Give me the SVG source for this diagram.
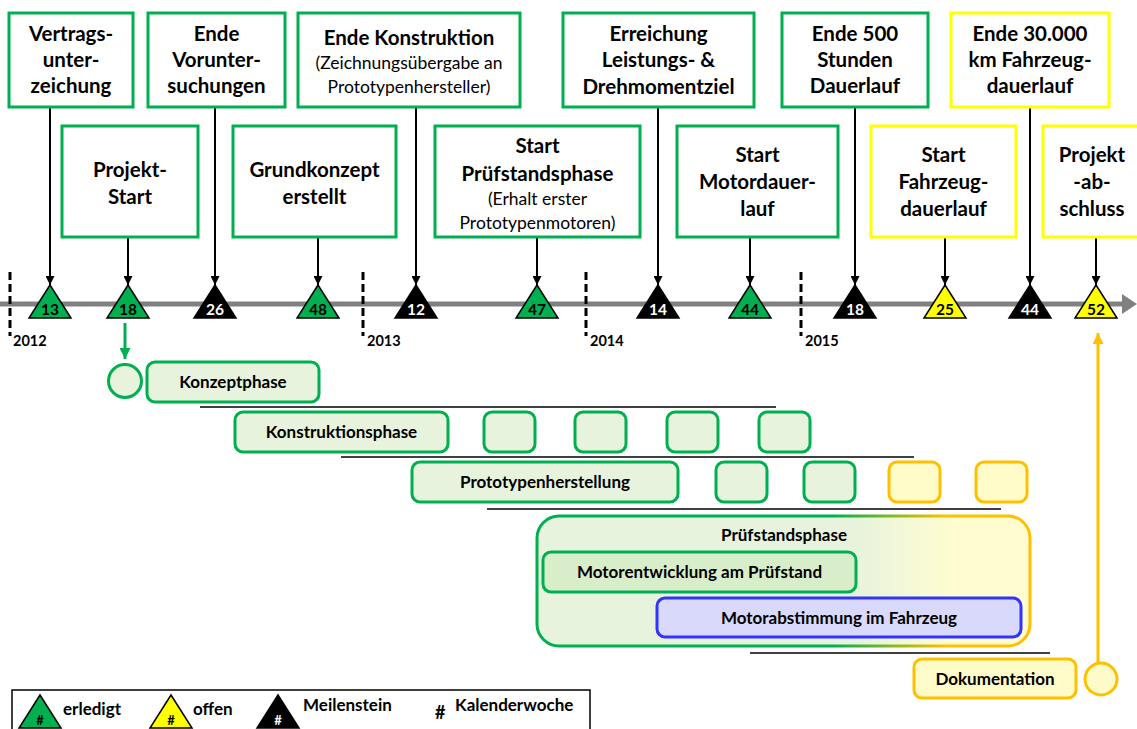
<svg xmlns="http://www.w3.org/2000/svg" width="1137" height="729" viewBox="0 0 1137 729">
<style>
text{font-family:Lato,"Open Sans","Liberation Sans",sans-serif;fill:#000}
.b{font-weight:bold;font-size:20.5px;text-anchor:middle}
.n{font-weight:normal;font-size:17.5px;text-anchor:middle}
.bar{font-weight:bold;font-size:17px;text-anchor:middle}
.yr{font-weight:bold;font-size:14.5px}
.num{font-weight:bold;font-size:15.5px;text-anchor:middle}
.gbox{fill:#fff;stroke:#00b050;stroke-width:3}
.ybox{fill:#fff;stroke:#ffff00;stroke-width:3}
.gbar{fill:#e7f3dc;stroke:#00b050;stroke-width:3}
.ybar{fill:#fffcc9;stroke:#ffc000;stroke-width:3}
.tg{fill:#00b050;stroke:#000;stroke-width:1.5}
.ty{fill:#ffff00;stroke:#000;stroke-width:1.5}
.tb{fill:#000;stroke:#000;stroke-width:1.5}
.conn{stroke:#000;stroke-width:2;fill:none}
.sep{stroke:#000;stroke-width:1.5}
.yrl{stroke:#000;stroke-width:3;stroke-dasharray:8 4}
.leg{font-weight:bold;font-size:17px}
.lh{font-weight:bold;font-size:13px;text-anchor:middle}
</style>
<defs>
<marker id="ah" viewBox="0 0 10 10" refX="10" refY="5" markerWidth="13" markerHeight="9" markerUnits="userSpaceOnUse" orient="auto"><path d="M0,0L10,5L0,10z" fill="#000"/></marker>
<marker id="ahg" viewBox="0 0 10 10" refX="10" refY="5" markerWidth="13" markerHeight="11" markerUnits="userSpaceOnUse" orient="auto"><path d="M0,0L10,5L0,10z" fill="#00b050"/></marker>
<marker id="aho" viewBox="0 0 10 10" refX="10" refY="5" markerWidth="13" markerHeight="11" markerUnits="userSpaceOnUse" orient="auto"><path d="M0,0L10,5L0,10z" fill="#ffc000"/></marker>
<linearGradient id="pfill" x1="537" y1="0" x2="1030" y2="0" gradientUnits="userSpaceOnUse">
<stop offset="0.64" stop-color="#e7f3dc"/><stop offset="0.85" stop-color="#fffdd0"/></linearGradient>
<linearGradient id="pstroke" x1="537" y1="0" x2="1030" y2="0" gradientUnits="userSpaceOnUse">
<stop offset="0.6" stop-color="#00b050"/><stop offset="0.83" stop-color="#ffc000"/></linearGradient>
</defs>

<!-- timeline -->
<g id="timeline">
<line x1="0" y1="304" x2="1124" y2="304" stroke="#808080" stroke-width="5"/>
<polygon points="1122,294 1137,304 1122,314" fill="#808080"/>
<line class="yrl" x1="10" y1="272" x2="10" y2="336"/>
<line class="yrl" x1="363" y1="272" x2="363" y2="336"/>
<line class="yrl" x1="586" y1="272" x2="586" y2="336"/>
<line class="yrl" x1="801" y1="272" x2="801" y2="336"/>
<text class="yr" x="13" y="346">2012</text>
<text class="yr" x="367" y="346">2013</text>
<text class="yr" x="590" y="346">2014</text>
<text class="yr" x="805" y="346">2015</text>
</g>

<!-- connectors -->
<g id="connectors">
<line class="conn" x1="50" y1="107" x2="50" y2="285" marker-end="url(#ah)"/>
<line class="conn" x1="128" y1="237" x2="128" y2="285" marker-end="url(#ah)"/>
<line class="conn" x1="215" y1="107" x2="215" y2="285" marker-end="url(#ah)"/>
<line class="conn" x1="318" y1="237" x2="318" y2="285" marker-end="url(#ah)"/>
<line class="conn" x1="416" y1="107" x2="416" y2="285" marker-end="url(#ah)"/>
<line class="conn" x1="537" y1="237" x2="537" y2="285" marker-end="url(#ah)"/>
<line class="conn" x1="658" y1="107" x2="658" y2="285" marker-end="url(#ah)"/>
<line class="conn" x1="750" y1="237" x2="750" y2="285" marker-end="url(#ah)"/>
<line class="conn" x1="855" y1="107" x2="855" y2="285" marker-end="url(#ah)"/>
<line class="conn" x1="945" y1="237" x2="945" y2="285" marker-end="url(#ah)"/>
<line class="conn" x1="1030" y1="107" x2="1030" y2="285" marker-end="url(#ah)"/>
<line class="conn" x1="1096" y1="237" x2="1096" y2="285" marker-end="url(#ah)"/>
<line x1="125" y1="323" x2="125" y2="359" stroke="#00b050" stroke-width="3" marker-end="url(#ahg)"/>
<line x1="1098" y1="662" x2="1098" y2="333" stroke="#ffc000" stroke-width="3" marker-end="url(#aho)"/>
<line class="sep" x1="200" y1="407" x2="776" y2="407"/>
<line class="sep" x1="341" y1="457" x2="914" y2="457"/>
<line class="sep" x1="487" y1="509" x2="1001" y2="509"/>
<line class="sep" x1="750" y1="653" x2="1050" y2="653"/>
</g>

<!-- milestones -->
<g id="m13"><polygon class="tg" points="50,285 29,318 71,318"/><text class="num" x="50" y="315">13</text></g>
<g id="m18"><polygon class="tg" points="128,285 107,318 149,318"/><text class="num" x="128" y="315">18</text></g>
<g id="m26"><polygon class="tb" points="215,285 194,318 236,318"/><text class="num" x="215" y="315" style="fill:#fff">26</text></g>
<g id="m48"><polygon class="tg" points="318,285 297,318 339,318"/><text class="num" x="318" y="315">48</text></g>
<g id="m12"><polygon class="tb" points="416,285 395,318 437,318"/><text class="num" x="416" y="315" style="fill:#fff">12</text></g>
<g id="m47"><polygon class="tg" points="537,285 516,318 558,318"/><text class="num" x="537" y="315">47</text></g>
<g id="m14"><polygon class="tb" points="658,285 637,318 679,318"/><text class="num" x="658" y="315" style="fill:#fff">14</text></g>
<g id="m44a"><polygon class="tg" points="750,285 729,318 771,318"/><text class="num" x="750" y="315">44</text></g>
<g id="m18b"><polygon class="tb" points="855,285 834,318 876,318"/><text class="num" x="855" y="315" style="fill:#fff">18</text></g>
<g id="m25"><polygon class="ty" points="945,285 924,318 966,318"/><text class="num" x="945" y="315">25</text></g>
<g id="m44b"><polygon class="tb" points="1030,285 1009,318 1051,318"/><text class="num" x="1030" y="315" style="fill:#fff">44</text></g>
<g id="m52"><polygon class="ty" points="1096,285 1075,318 1117,318"/><text class="num" x="1096" y="315">52</text></g>

<!-- top row boxes -->
<g id="n-vertrag"><rect class="gbox" x="9" y="13" width="124" height="94"/>
<text class="b" x="71" y="41">Vertrags-</text><text class="b" x="71" y="67">unter-</text><text class="b" x="71" y="93">zeichung</text></g>
<g id="n-vorunter"><rect class="gbox" x="148" y="13" width="137" height="94"/>
<text class="b" x="216.5" y="41">Ende</text><text class="b" x="216.5" y="67">Vorunter-</text><text class="b" x="216.5" y="93">suchungen</text></g>
<g id="n-konstruktion"><rect class="gbox" x="298" y="13" width="222" height="94"/>
<text class="b" x="409" y="45">Ende Konstruktion</text><text class="n" x="409" y="69">(Zeichnungsübergabe an</text><text class="n" x="409" y="93">Prototypenhersteller)</text></g>
<g id="n-leistung"><rect class="gbox" x="563" y="13" width="191" height="94"/>
<text class="b" x="658.5" y="41">Erreichung</text><text class="b" x="658.5" y="67">Leistungs- &amp;</text><text class="b" x="658.5" y="94">Drehmomentziel</text></g>
<g id="n-500h"><rect class="gbox" x="782" y="13" width="146" height="94"/>
<text class="b" x="855" y="41">Ende 500</text><text class="b" x="855" y="67">Stunden</text><text class="b" x="855" y="93">Dauerlauf</text></g>
<g id="n-30000"><rect class="ybox" x="951" y="13" width="158" height="94"/>
<text class="b" x="1030" y="41">Ende 30.000</text><text class="b" x="1030" y="67">km Fahrzeug-</text><text class="b" x="1030" y="93">dauerlauf</text></g>

<!-- second row boxes -->
<g id="n-projektstart"><rect class="gbox" x="62" y="126" width="136" height="111"/>
<text class="b" x="130" y="177">Projekt-</text><text class="b" x="130" y="204">Start</text></g>
<g id="n-grundkonzept"><rect class="gbox" x="233" y="126" width="163" height="111"/>
<text class="b" x="314.5" y="177">Grundkonzept</text><text class="b" x="314.5" y="204">erstellt</text></g>
<g id="n-pruefstand"><rect class="gbox" x="435" y="126" width="205" height="111"/>
<text class="b" x="537.5" y="153">Start</text><text class="b" x="537.5" y="181">Prüfstandsphase</text><text class="n" x="537.5" y="205">(Erhalt erster</text><text class="n" x="537.5" y="229">Prototypenmotoren)</text></g>
<g id="n-motordauer"><rect class="gbox" x="677" y="126" width="161" height="111"/>
<text class="b" x="757.5" y="162">Start</text><text class="b" x="757.5" y="189">Motordauer-</text><text class="b" x="757.5" y="216">lauf</text></g>
<g id="n-fahrzeugdauer"><rect class="ybox" x="871" y="126" width="145" height="111"/>
<text class="b" x="943.5" y="162">Start</text><text class="b" x="943.5" y="189">Fahrzeug-</text><text class="b" x="943.5" y="216">dauerlauf</text></g>
<g id="n-abschluss"><rect class="ybox" x="1043" y="126" width="98" height="111"/>
<text class="b" x="1092" y="162">Projekt</text><text class="b" x="1092" y="189">-ab-</text><text class="b" x="1092" y="216">schluss</text></g>

<!-- phases -->
<g id="p-start"><circle cx="125" cy="381" r="16.5" class="gbar"/></g>
<g id="p-konzept"><rect class="gbar" x="147" y="362" width="172" height="40" rx="8"/><text class="bar" x="233" y="388">Konzeptphase</text></g>
<g id="p-konstruktion"><rect class="gbar" x="235" y="412" width="213" height="40" rx="8"/><text class="bar" x="341.5" y="438">Konstruktionsphase</text></g>
<g id="p-konstruktion-iter">
<rect class="gbar" x="484" y="412" width="51" height="40" rx="8"/>
<rect class="gbar" x="575" y="412" width="51" height="40" rx="8"/>
<rect class="gbar" x="667" y="412" width="51" height="40" rx="8"/>
<rect class="gbar" x="759" y="412" width="51" height="40" rx="8"/>
</g>
<g id="p-prototyp"><rect class="gbar" x="412" y="462" width="266" height="40" rx="8"/><text class="bar" x="545" y="488">Prototypenherstellung</text></g>
<g id="p-prototyp-iter">
<rect class="gbar" x="716" y="462" width="51" height="40" rx="8"/>
<rect class="gbar" x="804" y="462" width="51" height="40" rx="8"/>
<rect class="ybar" x="889" y="462" width="51" height="40" rx="8"/>
<rect class="ybar" x="976" y="462" width="51" height="40" rx="8"/>
</g>
<g id="p-pruefstand"><rect x="537" y="516" width="493" height="130" rx="22" fill="url(#pfill)" stroke="url(#pstroke)" stroke-width="3"/>
<text class="bar" x="784" y="541">Prüfstandsphase</text></g>
<g id="p-motorentwicklung"><rect x="543" y="552" width="313" height="40" rx="8" fill="#d8edc9" stroke="#00b050" stroke-width="3"/>
<text class="bar" x="699.5" y="578">Motorentwicklung am Prüfstand</text></g>
<g id="p-motorabstimmung"><rect x="657" y="598" width="364" height="39" rx="8" fill="#d9d9fc" stroke="#3333ff" stroke-width="3"/>
<text class="bar" x="839" y="624">Motorabstimmung im Fahrzeug</text></g>
<g id="p-doku"><rect class="ybar" x="914" y="659" width="162" height="39" rx="8"/><text class="bar" x="995" y="685">Dokumentation</text></g>
<g id="p-ende"><circle cx="1101" cy="679" r="16" class="ybar"/></g>

<!-- legend -->
<g id="legend">
<rect x="12" y="690" width="578" height="52" fill="#fff" stroke="#000" stroke-width="1.5"/>
<polygon class="tg" points="40,695 19,728 61,728"/><text class="lh" x="40" y="725">#</text>
<text class="leg" x="63" y="715">erledigt</text>
<polygon class="ty" points="171,695 150,728 192,728"/><text class="lh" x="171" y="725">#</text>
<text class="leg" x="193" y="715">offen</text>
<polygon class="tb" points="278,695 257,728 299,728"/><text class="lh" x="278" y="725" style="fill:#fff">#</text>
<text class="leg" x="303" y="711">Meilenstein</text>
<text x="435" y="719" style="font-weight:bold;font-size:18px">#</text>
<text class="leg" x="455" y="711">Kalenderwoche</text>
</g>
</svg>
